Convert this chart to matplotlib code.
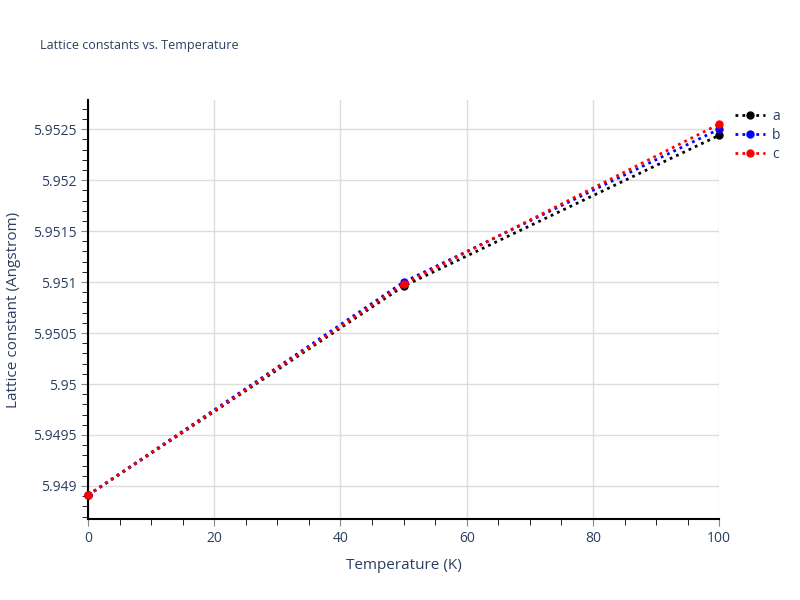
import matplotlib.pyplot as plt
from matplotlib.ticker import MultipleLocator

temps = [0, 50, 100]
lat_a = [5.94891, 5.95096, 5.95244]
lat_b = [5.94891, 5.95100, 5.95250]
lat_c = [5.94891, 5.95098, 5.95255]
series_names = ['a', 'b', 'c']
series_colors = ['black', 'blue', 'red']

plt.rcParams['font.family'] = ['Open Sans', 'DejaVu Sans']
txt = '#2a3f5f'
dpi = 100
fig = plt.figure(dpi=dpi, figsize=(800 / dpi, 600 / dpi))
ax = fig.add_axes([0.11, 0.135, 0.789, 0.698])

for vals, name, col in zip([lat_a, lat_b, lat_c], series_names, series_colors):
    ax.plot(temps, vals, linestyle=(0, (1, 1.5)), linewidth=2, color=col,
            marker='o', markersize=5, label=name, clip_on=False, zorder=3)

ax.set_xlim(0, 100)
ax.set_ylim(5.948676, 5.952784)
ax.xaxis.set_major_locator(MultipleLocator(20))
ax.xaxis.set_minor_locator(MultipleLocator(5))
ax.yaxis.set_major_locator(MultipleLocator(0.0005))
ax.yaxis.set_minor_locator(MultipleLocator(0.0001))

def fmt(v, pos):
    return ('%.4f' % v).rstrip('0').rstrip('.')
ax.yaxis.set_major_formatter(fmt)

ax.grid(True, which='major', color='#dddddd', linewidth=1, zorder=0)
for side in ['top', 'right']:
    ax.spines[side].set_visible(False)
for side in ['left', 'bottom']:
    ax.spines[side].set_color('black')
    ax.spines[side].set_linewidth(1.5)

ax.tick_params(which='major', length=5, color='#888888', labelcolor=txt, labelsize=10)
ax.tick_params(which='minor', length=4, color='black')

ax.set_xlabel('Temperature (K)', color=txt, fontsize=11, labelpad=9)
ax.set_ylabel('Lattice constant (Angstrom)', color=txt, fontsize=11, labelpad=8)
fig.text(0.05, 0.918, 'Lattice constants vs. Temperature', color=txt, fontsize=9)

ax.legend(loc='upper left', bbox_to_anchor=(1.005, 1.01), frameon=False,
          labelcolor=txt, fontsize=10, handlelength=2.2, handletextpad=0.5,
          labelspacing=0.3)

fig.savefig('out.png')
